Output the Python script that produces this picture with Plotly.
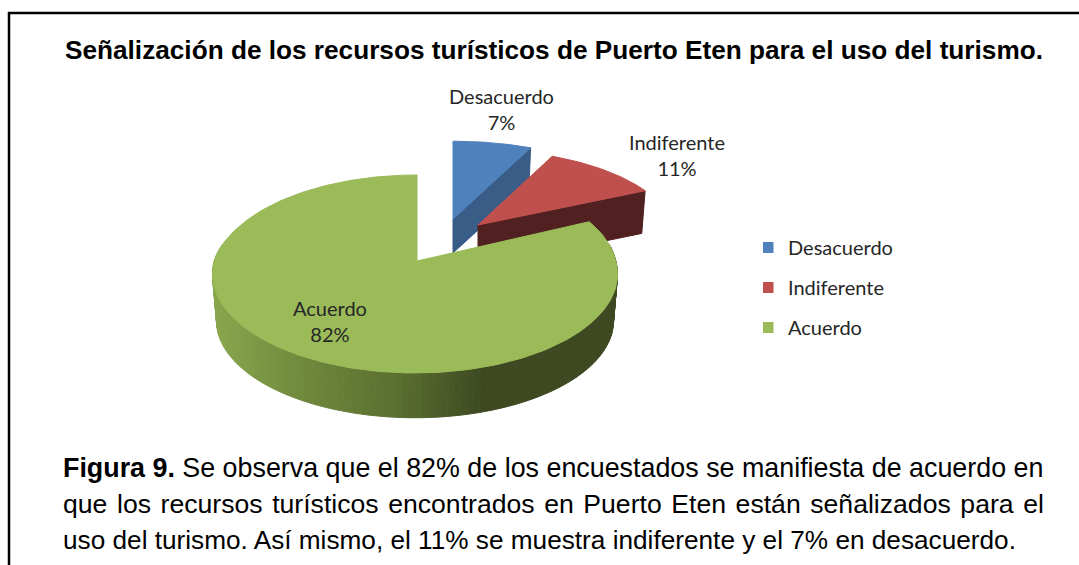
import numpy as np
import plotly.graph_objects as go

title = "Señalización de los recursos turísticos de Puerto Eten para el uso del turismo."
categories = ["Desacuerdo", "Indiferente", "Acuerdo"]
values = [7, 11, 82]
top_colors = ["#4F81BD", "#C0504D", "#9BBB59"]
wall_colors = ["#395D87", "#512020", "#3E4921"]
caption_lines = [
    "<b>Figura 9.</b> Se observa que el 82% de los encuestados se manifiesta de acuerdo en",
    "que los recursos turísticos encontrados en Puerto Eten están señalizados para el".replace(" ", " \u200a"),
    "uso del turismo. Así mismo, el 11% se muestra indiferente y el 7% en desacuerdo.",
]
caption_sizes = [26.85, 26.6, 26.2]

# Drawing frame of each exploded slice (apex position, half-axes, depth, bottom scale, front shift)
K = 0.131
frames = {
    "Desacuerdo": dict(xa=453, ya=219, A=204, B=88, dz=34, s=0.98, ox=0),
    "Indiferente": dict(xa=478, ya=225, A=195, B=85, dz=42, s=0.98, ox=0),
    "Acuerdo": dict(xa=417, ya=261, A=200.8, B=97.3, dz=47, s=0.98, ox=-2),
}
label_pos = {"Desacuerdo": (501, 109), "Indiferente": (677, 155), "Acuerdo": (330, 321)}


def project(theta_deg, f, bottom=False):
    t = np.radians(theta_deg)
    c, d = np.sin(t), np.cos(t)
    w = 1 + K * d
    s = f["s"] if bottom else 1.0
    dz = f["dz"] if bottom else 0.0
    shift = f["ox"] * np.clip((0.4 - d) / 0.4, 0, 1)
    return f["xa"] + shift + s * f["A"] * c / w, f["ya"] + dz - s * f["B"] * d / w


def apex(f, bottom=False):
    return f["xa"], f["ya"] + (f["dz"] if bottom else 0.0)


def poly(x, y, color, name=None):
    return go.Scatter(
        x=list(x), y=list(y), mode="lines", fill="toself", fillcolor=color,
        line=dict(color=color, width=1), showlegend=False, hoverinfo="skip", name=name,
    )


edges = np.concatenate([[0], np.cumsum(values)]) * 3.6
spans = {c: (edges[i], edges[i + 1]) for i, c in enumerate(categories)}
fig = go.Figure()

# Blue: inner wall then top
c = "Desacuerdo"; f = frames[c]; a0, a1 = spans[c]
xe, ye = project(a1, f); xb, yb = project(a1, f, True); xa, ya = apex(f); xab, yab = apex(f, True)
fig.add_trace(poly([xa, xe, xb, xab, xa], [ya, ye, yb, yab, ya], wall_colors[0]))
th = np.linspace(a0, a1, 40)
xs, ys = project(th, f)
fig.add_trace(poly(np.r_[xa, xs, xa], np.r_[ya, ys, ya], top_colors[0], c))

# Red: inner wall then top
c = "Indiferente"; f = frames[c]; a0, a1 = spans[c]
xe, ye = project(a1, f); xb, yb = project(a1, f, True); xa, ya = apex(f); xab, yab = apex(f, True)
fig.add_trace(poly([xa, xe, xb, xab, xa], [ya, ye, yb, yab, ya], wall_colors[1]))
th = np.linspace(a0, a1, 40)
xs, ys = project(th, f)
fig.add_trace(poly(np.r_[xa, xs, xa], np.r_[ya, ys, ya], top_colors[1], c))

# Green: outer wall with a horizontal shading ramp, then top
c = "Acuerdo"; f = frames[c]; a0, a1 = spans[c]
ramp_x = [210, 300, 400, 485, 640]
ramp_rgb = np.array([[138, 168, 78], [112, 138, 62], [90, 110, 48], [62, 73, 33], [62, 73, 33]])


def shade(x):
    r, g, b = (int(np.interp(x, ramp_x, ramp_rgb[:, i])) for i in range(3))
    return f"rgb({r},{g},{b})"


steps = np.linspace(80, 280, 121)
for t0, t1 in zip(steps[:-1], steps[1:]):
    x0, y0 = project(t0, f); x1, y1 = project(t1, f)
    x2, y2 = project(t1, f, True); x3, y3 = project(t0, f, True)
    fig.add_trace(poly([x0, x1, x2, x3, x0], [y0, y1, y2, y3, y0], shade((x0 + x1) / 2)))
th = np.linspace(a0, a1, 240)
xs, ys = project(th, f)
xa, ya = apex(f)
fig.add_trace(poly(np.r_[xa, xs, xa], np.r_[ya, ys, ya], top_colors[2], c))

# Legend entries
for i, (c, col) in enumerate(zip(categories, top_colors)):
    fig.add_trace(go.Scatter(
        x=[None], y=[None], mode="markers", name=c, legendgroup=c,
        marker=dict(symbol="square", size=11, color=col), hoverinfo="skip",
    ))

ann = []
for c, v in zip(categories, values):
    x, y = label_pos[c]
    ann.append(dict(x=x, y=y, xref="x", yref="y", text=f"{c}<br>{v}%", showarrow=False,
                    align="center", font=dict(family="Lato", size=20, color="#262626")))
ann.append(dict(x=554, y=50, xref="x", yref="y", text=f"<b>{title}</b>", showarrow=False,
                font=dict(family="Liberation Sans", size=26.2, color="#000000")))
for i, line in enumerate(caption_lines):
    ann.append(dict(x=61, y=468 + i * 36, xref="x", yref="y", text=line, showarrow=False, xanchor="left",
                    font=dict(family="Liberation Sans", size=caption_sizes[i], color="#000000")))

fig.update_layout(
    width=1079, height=565, margin=dict(l=0, r=0, t=0, b=0),
    paper_bgcolor="white", plot_bgcolor="white",
    xaxis=dict(range=[0, 1079], visible=False, fixedrange=True),
    yaxis=dict(range=[565, 0], visible=False, fixedrange=True),
    annotations=ann,
    legend=dict(x=763 / 1079, y=1 - 228 / 565, xanchor="left", yanchor="top", tracegroupgap=11,
                indentation=-15, bgcolor="rgba(0,0,0,0)", itemclick=False, itemdoubleclick=False,
                font=dict(family="Lato", size=20, color="#262626")),
    shapes=[
        dict(type="line", x0=8, x1=1079, y0=13, y1=13, xref="x", yref="y", line=dict(color="black", width=2.5)),
        dict(type="line", x0=9, x1=9, y0=12, y1=565, xref="x", yref="y", line=dict(color="black", width=2.5)),
    ],
)
fig.write_html("out.html", config=dict(displayModeBar=False),
               post_script="document.body.style.margin='0';document.body.style.overflow='hidden';")
